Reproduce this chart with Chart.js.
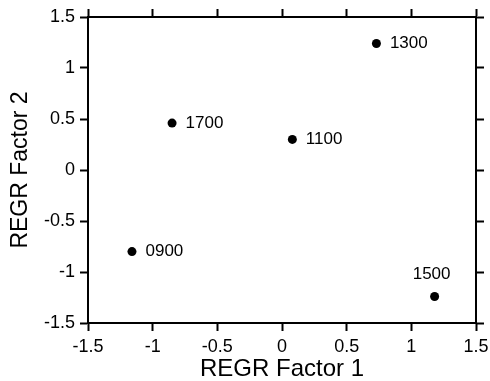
<!DOCTYPE html>
<html>
<head>
<meta charset="utf-8">
<script src="https://cdn.jsdelivr.net/npm/chart.js@4"></script>
<style>
  body { margin: 0; background: #fff; }
  #wrap { width: 490px; height: 381px; position: relative; }
</style>
</head>
<body>
<div id="wrap"><canvas id="myChart"></canvas></div>
<script>
const horas = ['0900', '1100', '1300', '1500', '1700'];
const factor1 = [-1.16, 0.08, 0.73, 1.18, -0.85];
const factor2 = [-0.80, 0.30, 1.24, -1.24, 0.46];
const ejeMin = -1.5;
const ejeMax = 1.5;
const paso = 0.5;

const puntos = horas.map((h, i) => ({ x: factor1[i], y: factor2[i], etiqueta: h }));
const fuente = '"Liberation Sans", Arial, sans-serif';

// etiquetas junto a cada punto
const etiquetasPlugin = {
    id: 'etiquetas',
    afterDatasetsDraw(chart) {
        const ctx = chart.ctx;
        const meta = chart.getDatasetMeta(0);
        const area = chart.chartArea;
        ctx.save();
        ctx.font = '17px ' + fuente;
        ctx.fillStyle = '#000';
        ctx.textBaseline = 'middle';
        meta.data.forEach((el, i) => {
            const txt = puntos[i].etiqueta;
            if (el.x + 60 > area.right) {
                ctx.textAlign = 'center';
                ctx.fillText(txt, el.x - 3, el.y - 22);
            } else {
                ctx.textAlign = 'left';
                ctx.fillText(txt, el.x + 13.5, el.y);
            }
        });
        ctx.restore();
    }
};

function ejeBase(pos, conTexto, titulo, tamTitulo, padTitulo) {
    return {
        type: 'linear',
        position: pos,
        min: ejeMin,
        max: ejeMax,
        ticks: {
            display: conTexto,
            stepSize: paso,
            color: '#000',
            padding: 5,
            callback: (v) => String(v),
            font: { size: 18, family: fuente }
        },
        grid: {
            drawOnChartArea: false,
            drawTicks: true,
            tickLength: 8,
            tickWidth: 2,
            tickColor: '#000'
        },
        border: { display: true, color: '#000', width: 2 },
        title: {
            display: !!titulo,
            text: titulo || '',
            color: '#000',
            padding: padTitulo || 0,
            font: { size: tamTitulo || 22, family: fuente }
        }
    };
}

// tamaños fijos de los ejes para que el área coincida con la figura
const ejeX = ejeBase('bottom', true, 'REGR Factor 1', 24, { top: 0, bottom: -3 });
ejeX.afterFit = (s) => { s.height = 58; s.paddingLeft = 0; s.paddingRight = 0; };
const ejeY = ejeBase('left', true, 'REGR Factor 2', 23, { top: 7, bottom: 0 });
ejeY.afterFit = (s) => { s.width = 88; s.paddingTop = 0; s.paddingBottom = 0; };
const ejeX2 = ejeBase('top', false, null);
ejeX2.afterFit = (s) => { s.height = 17; };
const ejeY2 = ejeBase('right', false, null);
ejeY2.afterFit = (s) => { s.width = 14; };

new Chart(document.getElementById('myChart'), {
    type: 'scatter',
    data: {
        datasets: [{
            label: 'REGR',
            data: puntos,
            backgroundColor: '#000',
            borderWidth: 0,
            pointRadius: 4.5,
            pointHoverRadius: 4.5
        }]
    },
    options: {
        responsive: true,
        maintainAspectRatio: false,
        animation: false,
        layout: { padding: 0 },
        plugins: {
            legend: { display: false },
            tooltip: { enabled: false }
        },
        scales: {
            x: ejeX,
            y: ejeY,
            x2: ejeX2,
            y2: ejeY2
        }
    },
    plugins: [etiquetasPlugin]
});
</script>
</body>
</html>
